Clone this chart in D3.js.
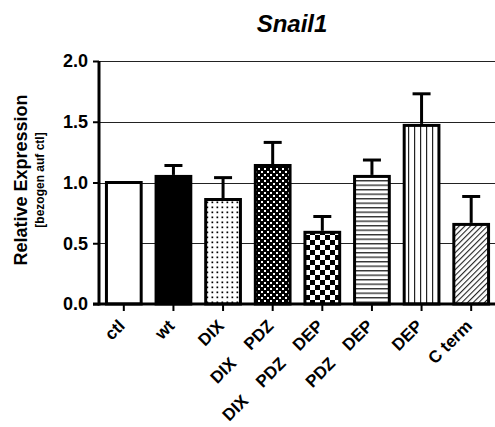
<!DOCTYPE html>
<html>
<head>
<meta charset="utf-8">
<script src="https://cdn.jsdelivr.net/npm/d3@7"></script>
<style>
  html, body { margin: 0; padding: 0; background: #fff; }
  svg { display: block; }
  text { font-family: "Liberation Sans", Arial, sans-serif; font-weight: bold; }
</style>
</head>
<body>
<svg id="chart" width="495" height="427"></svg>
<script>
// ---- data ----
const categories = ["ctl", "wt", "DIX", "DIX PDZ", "DIX PDZ DEP", "PDZ DEP", "DEP", "C term"];
const labelWords = [["ctl"], ["wt"], ["DIX"], ["DIX", "PDZ"], ["DIX", "PDZ", "DEP"], ["PDZ", "DEP"], ["DEP"], ["C term"]];
const means = [1.00, 1.05, 0.86, 1.14, 0.59, 1.05, 1.47, 0.655];
const errors = [0, 0.09, 0.18, 0.19, 0.13, 0.135, 0.26, 0.23];
const fills = ["white", "black", "dots", "fineChecker", "bigChecker", "hLines", "vLines", "diag"];
const yTicks = [0.0, 0.5, 1.0, 1.5, 2.0];
const titleText = "Snail1";
const yTitle = "Relative Expression";
const ySubTitle = "[bezogen auf ctl]";

// ---- layout ----
const svg = d3.select("#chart");
const x = d3.scaleBand().domain(categories).range([99, 496]).paddingInner(0.3).paddingOuter(0.15);
const y = d3.scaleLinear().domain([0, 2]).range([304, 61]);

// ---- patterns ----
const defs = svg.append("defs");
function pat(id, w, h, draw, transform) {
  const p = defs.append("pattern").attr("id", id).attr("patternUnits", "userSpaceOnUse")
    .attr("width", w).attr("height", h);
  if (transform) p.attr("patternTransform", transform);
  draw(p);
}
pat("dots", 5, 5, p => {
  p.append("rect").attr("width", 5).attr("height", 5).attr("fill", "white");
  p.append("rect").attr("x", 1.5).attr("y", 1.5).attr("width", 1.7).attr("height", 1.7).attr("fill", "black");
});
pat("fineChecker", 6, 6, p => {
  p.append("rect").attr("width", 6).attr("height", 6).attr("fill", "black");
  p.append("rect").attr("x", 0).attr("y", 0).attr("width", 2).attr("height", 2).attr("fill", "white");
  p.append("rect").attr("x", 3).attr("y", 3).attr("width", 2).attr("height", 2).attr("fill", "white");
});
pat("bigChecker", 10, 10, p => {
  p.append("rect").attr("width", 10).attr("height", 10).attr("fill", "white");
  p.append("rect").attr("x", 0).attr("y", 0).attr("width", 5).attr("height", 5).attr("fill", "black");
  p.append("rect").attr("x", 5).attr("y", 5).attr("width", 5).attr("height", 5).attr("fill", "black");
});
pat("hLines", 10, 4.5, p => {
  p.append("rect").attr("width", 10).attr("height", 4.5).attr("fill", "white");
  p.append("rect").attr("y", 0).attr("width", 10).attr("height", 1.4).attr("fill", "#333");
});
pat("vLines", 6, 10, p => {
  p.append("rect").attr("width", 6).attr("height", 10).attr("fill", "white");
  p.append("rect").attr("x", 0).attr("width", 1.2).attr("height", 10).attr("fill", "#222");
});
pat("diag", 4, 10, p => {
  p.append("rect").attr("width", 4).attr("height", 10).attr("fill", "white");
  p.append("rect").attr("x", 0).attr("width", 1.1).attr("height", 10).attr("fill", "#222");
}, "rotate(45)");

function fillOf(f) {
  if (f === "white" || f === "black") return f;
  return "url(#" + f + ")";
}

// ---- gridlines ----
svg.append("g").selectAll("line").data(yTicks.filter(d => d > 0)).join("line")
  .attr("x1", 99).attr("x2", 495)
  .attr("y1", d => Math.round(y(d)) + 0.5).attr("y2", d => Math.round(y(d)) + 0.5)
  .attr("stroke", "#222").attr("stroke-width", 1.2);

// ---- bars ----
svg.append("g").selectAll("rect").data(categories).join("rect")
  .attr("x", d => x(d))
  .attr("y", (d, i) => y(means[i]))
  .attr("width", x.bandwidth())
  .attr("height", (d, i) => y(0) - y(means[i]))
  .attr("fill", (d, i) => fillOf(fills[i]))
  .attr("stroke", "black").attr("stroke-width", 3);

// ---- error bars ----
const eg = svg.append("g").attr("stroke", "black").attr("stroke-width", 3);
categories.forEach((c, i) => {
  if (!errors[i]) return;
  const cx = x(c) + x.bandwidth() / 2;
  eg.append("line").attr("x1", cx).attr("x2", cx)
    .attr("y1", y(means[i]) - 1.5).attr("y2", y(means[i] + errors[i]));
  eg.append("line").attr("x1", cx - 9).attr("x2", cx + 9)
    .attr("y1", y(means[i] + errors[i])).attr("y2", y(means[i] + errors[i]));
});

// ---- axes ----
const yAxis = svg.append("g").attr("transform", "translate(99,0)")
  .call(d3.axisLeft(y).tickValues(yTicks).tickFormat(d3.format(".1f")).tickSize(6).tickPadding(5));
yAxis.select(".domain").attr("stroke", "black").attr("stroke-width", 3).attr("d", `M0,${y(0) + 1.5}V${y(2)}`);
yAxis.selectAll(".tick line").attr("stroke", "black").attr("stroke-width", 2);
yAxis.selectAll(".tick text").attr("font-size", 18).attr("fill", "black")
  .style("font-family", "'Liberation Sans', Arial, sans-serif").style("font-weight", "bold");

const xAxis = svg.append("g").attr("transform", `translate(0,${y(0)})`)
  .call(d3.axisBottom(x).tickSize(7).tickFormat(""));
xAxis.select(".domain").attr("stroke", "black").attr("stroke-width", 3).attr("d", "M93,0H496");
xAxis.selectAll(".tick line").attr("stroke", "black").attr("stroke-width", 2);

// ---- x labels (rotated -45°, words spaced along baseline) ----
const lg = svg.append("g");
categories.forEach((c, i) => {
  const cx = x(c) + x.bandwidth() / 2;
  const g = lg.append("g").attr("transform", `translate(${cx + 2},327) rotate(-45)`);
  const words = labelWords[i].slice().reverse();
  words.forEach((w, j) => {
    g.append("text").attr("x", -j * 53).attr("y", 0)
      .attr("text-anchor", "end").attr("font-size", 17).attr("fill", "black").text(w);
  });
});

// ---- titles ----
svg.append("text").attr("x", 292).attr("y", 32).attr("text-anchor", "middle")
  .attr("font-size", 24).style("font-style", "italic").text(titleText);

svg.append("text").attr("transform", "translate(27,180) rotate(-90)").attr("text-anchor", "middle")
  .attr("font-size", 18).text(yTitle);
svg.append("text").attr("transform", "translate(44,180) rotate(-90)").attr("text-anchor", "middle")
  .attr("font-size", 12).text(ySubTitle);
</script>
</body>
</html>
